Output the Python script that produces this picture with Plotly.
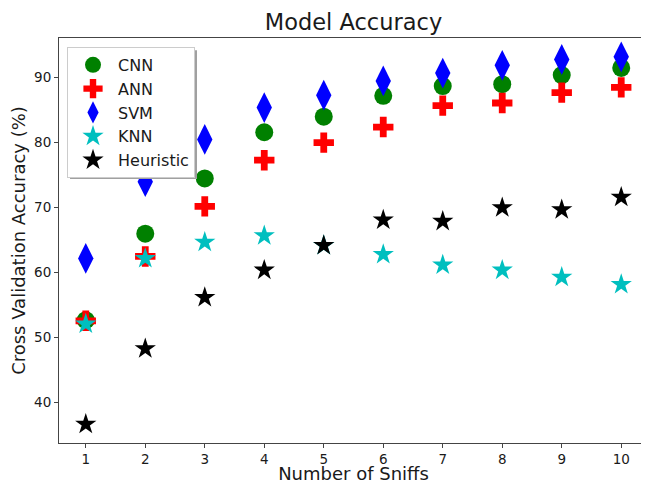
import plotly.graph_objects as go

sniffs = [1, 2, 3, 4, 5, 6, 7, 8, 9, 10]
cnn = [52.6, 65.9, 74.4, 81.5, 83.9, 87.1, 88.6, 88.9, 90.3, 91.4]
ann = [52.5, 62.4, 70.1, 77.2, 79.9, 82.3, 85.6, 86.0, 87.6, 88.4]
svm = [62.1, 73.9, 80.4, 85.3, 87.2, 89.4, 90.6, 91.8, 92.7, 93.1]
knn = [52.0, 62.1, 64.6, 65.6, 64.1, 62.7, 61.1, 60.3, 59.2, 58.1]
heuristic = [36.6, 48.2, 56.1, 60.3, 64.1, 68.0, 67.8, 69.9, 69.6, 71.5]

FONT = "DejaVu Sans"
TXT = "#1a1a1a"

series = [
    ("CNN", cnn, "circle", "green", 18),
    ("ANN", ann, "cross", "red", 17),
    ("SVM", svm, "diamond-tall", "blue", 22),
    ("KNN", knn, "star", "#00BFBF", 16),
    ("Heuristic", heuristic, "star", "black", 16),
]

fig = go.Figure()
for name, vals, sym, col, sz in series:
    fig.add_trace(go.Scatter(
        x=sniffs, y=vals, mode="markers", name=name,
        marker=dict(symbol=sym, color=col, size=sz, line=dict(width=0)),
    ))

axis_common = dict(
    showline=True, linecolor="#444444", linewidth=1, mirror=True,
    ticks="outside", ticklen=4, tickcolor="#444444", showgrid=False,
    zeroline=False, tickfont=dict(family=FONT, size=13.5, color=TXT),
)

# legend drop shadow (drawn behind the legend box)
fig.add_shape(type="rect", xref="paper", yref="paper",
              x0=0.0187, x1=0.2343, y0=0.652, y1=0.970,
              fillcolor="#a0a0a0", line=dict(width=0), layer="above")

fig.update_layout(
    width=641, height=476,
    margin=dict(l=51, r=1, t=30, b=41),
    paper_bgcolor="white", plot_bgcolor="white",
    title=dict(text="Model Accuracy", x=0.5, xanchor="center", xref="paper",
               y=0.971, yanchor="middle", yref="container",
               font=dict(family=FONT, size=22.5, color=TXT)),
    xaxis=dict(range=[0.55, 10.45], tickvals=sniffs,
               title=dict(text="Number of Sniffs", font=dict(family=FONT, size=18, color=TXT), standoff=5),
               automargin=False, **axis_common),
    yaxis=dict(range=[33.7, 96.0], tickvals=[40, 50, 60, 70, 80, 90],
               title=dict(text="Cross Validation Accuracy (%)", font=dict(family=FONT, size=18, color=TXT), standoff=6),
               automargin=False, **axis_common),
    legend=dict(x=0.0136, y=0.978, xanchor="left", yanchor="top",
                bgcolor="white", bordercolor="#cccccc", borderwidth=1,
                font=dict(family=FONT, size=16, color=TXT),
                itemsizing="trace", itemwidth=40),
    showlegend=True,
)

fig.write_html("out.html")
